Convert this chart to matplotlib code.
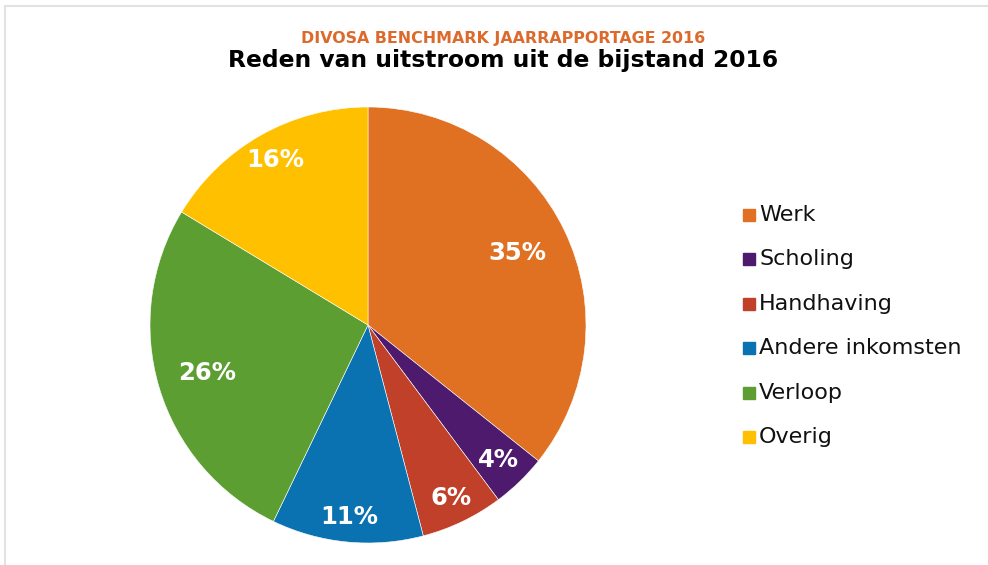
import matplotlib
matplotlib.use("Agg")
import matplotlib.pyplot as plt
import numpy as np

# uitstroom redenen 2016 (percentages zoals in de grafiek)
categorieen = ["Werk", "Scholing", "Handhaving", "Andere inkomsten", "Verloop", "Overig"]
percentages = [35, 4, 6, 11, 26, 16]
kleuren = ["#E07122", "#4E1A6E", "#C0402A", "#0A72B0", "#5C9E31", "#FFC000"]
# afstand van het label tot het midden (best fit zoals Excel)
label_afstand = [0.76, 0.86, 0.88, 0.885, 0.77, 0.87]

plt.rcParams['font.family'] = ['DejaVu Sans']

fig = plt.figure(figsize=(9.88, 5.65), dpi=100)
fig.patch.set_facecolor("white")

# lichtgrijze rand links en boven
fig.add_artist(plt.Line2D([4.5 / 988, 4.5 / 988], [0, 1 - 6 / 565], color="#E2E2E2", lw=1.5))
fig.add_artist(plt.Line2D([4.5 / 988, 1], [1 - 6 / 565, 1 - 6 / 565], color="#E2E2E2", lw=1.5))

ax = fig.add_axes([150 / 988, 22 / 565, 436 / 988, 436 / 565])
wedges, _ = ax.pie(percentages, colors=kleuren, startangle=90, counterclock=False,
                   radius=1.0, wedgeprops=dict(linewidth=0.4, edgecolor="white"))
ax.set_xlim(-1, 1)
ax.set_ylim(-1, 1)
ax.set_aspect("equal")
ax.axis("off")

for w, p, d in zip(wedges, percentages, label_afstand):
    hoek = np.deg2rad((w.theta1 + w.theta2) / 2)
    ax.text(d * np.cos(hoek), d * np.sin(hoek), f"{p}%", color="white",
            fontsize=17.5, fontweight="bold", ha="center", va="center")

# titels
fig.text(503 / 988, 1 - 38 / 565, "DIVOSA BENCHMARK JAARRAPPORTAGE 2016", color="#DC6A2C",
         fontsize=11.4, fontweight="bold", ha="center", va="center")
fig.text(503 / 988, 1 - 61 / 565, "Reden van uitstroom uit de bijstand 2016", color="black",
         fontsize=16.8, fontweight="bold", ha="center", va="center")

# legenda
for i, (naam, kleur) in enumerate(zip(categorieen, kleuren)):
    y = 1 - (215 + i * 44.4) / 565
    fig.patches.append(plt.Rectangle((743 / 988, y - 6 / 565), 12 / 988, 12 / 565,
                                     transform=fig.transFigure, color=kleur, figure=fig))
    fig.text(759 / 988, y, naam, fontsize=16, ha="left", va="center", color="#111111")

plt.savefig("out.png", dpi=100)
